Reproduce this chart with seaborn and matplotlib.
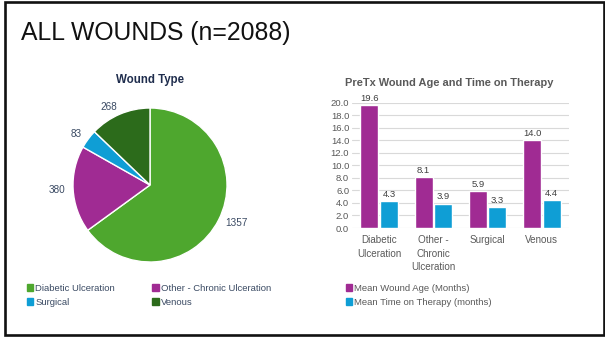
import matplotlib
matplotlib.use("Agg")
import matplotlib.pyplot as plt
import matplotlib.patches as mpatches
import seaborn as sns
import pandas as pd

# ---- data ----
wound_types = ["Diabetic Ulceration", "Other - Chronic Ulceration", "Surgical", "Venous"]
wound_counts = [1357, 380, 83, 268]
bar_categories = ["Diabetic\nUlceration", "Other -\nChronic\nUlceration", "Surgical", "Venous"]
mean_wound_age = [19.6, 8.1, 5.9, 14.0]
mean_time_on_therapy = [4.3, 3.9, 3.3, 4.4]
series_names = ["Mean Wound Age (Months)", "Mean Time on Therapy (months)"]
y_ticks = [0, 2, 4, 6, 8, 10, 12, 14, 16, 18, 20]

pie_colors = ["#4ea72e", "#a02b93", "#0f9ed5", "#2c6b1b"]
bar_colors = ["#a02b93", "#0f9ed5"]

sns.set_theme(style="white")
plt.rcParams["font.family"] = ["Liberation Sans", "DejaVu Sans"]

W, H = 605, 340
fig = plt.figure(figsize=(W / 100, H / 100), dpi=100)

def fx(x):
    return x / W

def fy(y):
    return 1 - y / H

# frame
fig.patches.append(mpatches.Rectangle((fx(5.3), fy(335)), fx(603.8) - fx(5.3), fy(1.5) - fy(335),
                                      transform=fig.transFigure, fill=False,
                                      edgecolor="#111111", linewidth=1.9))

fig.text(fx(21), fy(33), "ALL WOUNDS (n=2088)", fontsize=17.8, color="#111111",
         ha="left", va="center")

# ---- pie ----
cx, cy, r = 150, 185, 77
ax1 = fig.add_axes([fx(cx - r), fy(cy + r), fx(2 * r), fy(cy - r) - fy(cy + r)])
wedges, texts = ax1.pie(wound_counts, colors=pie_colors, startangle=90, counterclock=False,
                        labels=[str(v) for v in wound_counts], labeldistance=1.1,
                        textprops=dict(fontsize=7.2, color="#3a4a63"))
ax1.set_xlim(-1, 1)
ax1.set_ylim(-1, 1)
ax1.set_aspect("equal")
fig.text(fx(150), fy(80), "Wound Type", fontsize=8.3, fontweight="bold", color="#1f2d4d",
         ha="center", va="center")

pie_handles = [mpatches.Patch(color=c) for c in pie_colors]
order = [0, 2, 1, 3]
fig.legend([pie_handles[i] for i in order], [wound_types[i] for i in order],
           loc="upper left", bbox_to_anchor=(fx(22), fy(279)), ncol=2, frameon=False,
           fontsize=6.8, handlelength=0.7, handleheight=0.7, handletextpad=0.2,
           columnspacing=3.95, labelspacing=0.55, borderpad=0, labelcolor="#3a4a63")

# ---- bars ----
rows = []
for cat, a, t in zip(bar_categories, mean_wound_age, mean_time_on_therapy):
    rows.append({"category": cat, "series": series_names[0], "value": a})
    rows.append({"category": cat, "series": series_names[1], "value": t})
df = pd.DataFrame(rows)

ax2 = fig.add_axes([fx(352), fy(228), fx(569) - fx(352), fy(102.7) - fy(228)])
sns.barplot(data=df, x="category", y="value", hue="series", palette=bar_colors,
            width=0.72, gap=0.08, saturation=1, ax=ax2, legend=False)
for cont in ax2.containers:
    ax2.bar_label(cont, fmt="%.1f", fontsize=6.8, color="#404040", padding=1.5)
ax2.set_ylim(0, 20)
ax2.set_yticks(y_ticks)
ax2.set_yticklabels([f"{v:.1f}" for v in y_ticks])
ax2.set_xlabel("")
ax2.set_ylabel("")
ax2.grid(axis="y", color="#d9d9d9", linewidth=0.8)
ax2.set_axisbelow(True)
for s in ax2.spines.values():
    s.set_visible(False)
ax2.tick_params(axis="both", length=0, labelsize=6.8, labelcolor="#595959", pad=2)
ax2.tick_params(axis="x", pad=5, labelsize=7.1)
for lab in ax2.get_xticklabels():
    lab.set_linespacing(1.45)
fig.text(fx(449), fy(83), "PreTx Wound Age and Time on Therapy", fontsize=7.9,
         fontweight="bold", color="#595959", ha="center", va="center")

bar_handles = [mpatches.Patch(color=c) for c in bar_colors]
fig.legend(bar_handles, series_names, loc="upper left", bbox_to_anchor=(fx(341), fy(279)),
           ncol=1, frameon=False, fontsize=6.8, handlelength=0.7, handleheight=0.7,
           handletextpad=0.2, labelspacing=0.55, borderpad=0, labelcolor="#595959")

fig.savefig("out.png", dpi=100)
